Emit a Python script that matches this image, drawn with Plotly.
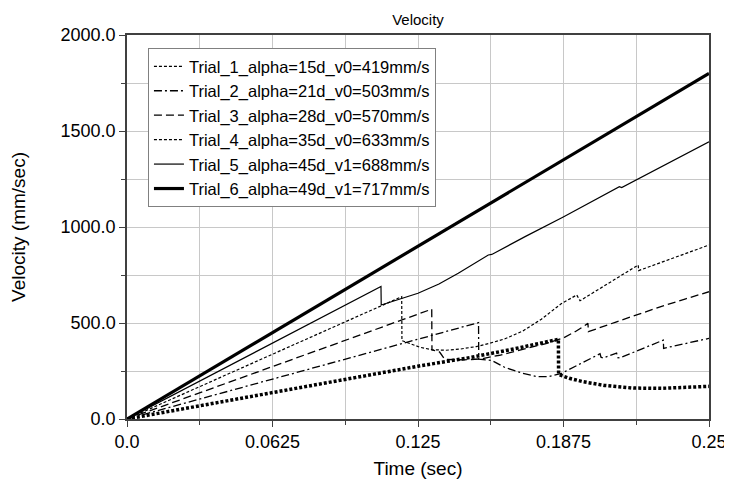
import plotly.graph_objects as go

# ---- data ----
trial_names = [
    "Trial_1_alpha=15d_v0=419mm/s",
    "Trial_2_alpha=21d_v0=503mm/s",
    "Trial_3_alpha=28d_v0=570mm/s",
    "Trial_4_alpha=35d_v0=633mm/s",
    "Trial_5_alpha=45d_v1=688mm/s",
    "Trial_6_alpha=49d_v1=717mm/s",
]

t1 = [0, 0.0958, 0.125, 0.1473, 0.165, 0.1853, 0.1854, 0.19, 0.196, 0.205, 0.2175, 0.23, 0.24, 0.25]
v1 = [0, 212, 275, 320, 362, 415, 232, 212, 194, 175, 161, 160, 165, 170]

t2 = [0, 0.151, 0.1511, 0.1567, 0.1624, 0.17, 0.176, 0.181, 0.1867, 0.195, 0.2032, 0.2036,
      0.2045, 0.2103, 0.2108, 0.2117, 0.2304, 0.2305, 0.25]
v2 = [0, 502, 312, 305, 268, 238, 221, 221, 238, 288, 340, 322, 318, 343, 320, 318, 411, 368, 420]

t3 = [0, 0.1309, 0.131, 0.134, 0.1345, 0.1365, 0.145, 0.152, 0.16, 0.17, 0.18, 0.1874, 0.193,
      0.198, 0.1982, 0.21, 0.22, 0.23, 0.24, 0.25]
v3 = [0, 572, 359, 352, 345, 310, 308, 313, 332, 362, 393, 422, 458, 498, 455, 505, 547, 588, 626, 663]

t4 = [0, 0.118, 0.1181, 0.122, 0.126, 0.131, 0.137, 0.143, 0.150, 0.156, 0.1624, 0.17, 0.178,
      0.1865, 0.1932, 0.1946, 0.2046, 0.2196, 0.2198, 0.235, 0.25]
v4 = [0, 637, 408, 390, 373, 361, 358, 364, 377, 395, 418, 458, 520, 600, 646, 616, 690, 802, 773, 840, 906]

t5 = [0, 0.1091, 0.1092, 0.118, 0.125, 0.134, 0.1423, 0.1552, 0.1567, 0.171, 0.1874, 0.2115, 0.2125, 0.25]
v5 = [0, 690, 594, 629, 655, 703, 759, 854, 857, 950, 1052, 1210, 1205, 1444]

t6 = [0, 0.25]
v6 = [0, 1800]

x_tick_vals = [0, 0.0625, 0.125, 0.1875, 0.25]
x_tick_text = ["0.0", "0.0625", "0.125", "0.1875", "0.25"]

# ---- styles ----
FONT = "Liberation Sans, Arial, sans-serif"
series = [
    (t1, v1, dict(color="black", width=3.5, dash="3px,2px")),
    (t2, v2, dict(color="black", width=1.3, dash="8px,3px,2px,3px")),
    (t3, v3, dict(color="black", width=1.3, dash="8px,4px")),
    (t4, v4, dict(color="black", width=1.2, dash="3px,2px")),
    (t5, v5, dict(color="black", width=1.2)),
    (t6, v6, dict(color="black", width=3.2)),
]

fig = go.Figure()
for i, (tx, vy, ln) in enumerate(series):
    if i == 0:
        # legend sample drawn thin (as in the reference legend)
        fig.add_trace(go.Scatter(x=[None], y=[None], mode="lines", name=trial_names[0],
                                 legendgroup="t1",
                                 line=dict(color="black", width=1.2, dash="3px,2px")))
        fig.add_trace(go.Scatter(x=tx, y=vy, mode="lines", name=trial_names[0],
                                 legendgroup="t1", showlegend=False, line=ln))
    else:
        fig.add_trace(go.Scatter(x=tx, y=vy, mode="lines", name=trial_names[i], line=ln))

fig.update_layout(
    width=724, height=471,
    margin=dict(l=119, r=23, t=27, b=60, autoexpand=False),
    paper_bgcolor="white", plot_bgcolor="white",
    font=dict(family=FONT, color="black"),
    title=dict(text="Velocity", x=0.5, xref="paper", xanchor="center",
               y=1, yref="container", yanchor="top", pad=dict(t=6),
               font=dict(size=15, family=FONT, color="black")),
    showlegend=True,
    legend=dict(x=0.036, y=0.966, xanchor="left", yanchor="top",
                bgcolor="white", bordercolor="#808080", borderwidth=1,
                font=dict(size=16.5, family=FONT, color="black"),
                tracegroupgap=0, itemwidth=30),
)

fig.update_xaxes(
    range=[0, 0.25], tickvals=x_tick_vals, ticktext=x_tick_text,
    automargin=False, ticklabeloverflow="allow",
    showgrid=True, gridcolor="#c8c8c8", gridwidth=1,
    minor=dict(dtick=0.03125, showgrid=True, gridcolor="#c8c8c8", ticks="outside",
               ticklen=4, tickcolor="#404040"),
    ticks="outside", ticklen=6, tickcolor="#404040",
    showline=True, linecolor="#404040", linewidth=1.5, mirror=True,
    zeroline=False,
    tickfont=dict(size=18, family=FONT, color="black"),
    title=dict(text="Time (sec)", font=dict(size=19, family=FONT, color="black"), standoff=16),
)
fig.update_yaxes(
    range=[0, 2000], dtick=500, tickformat=".1f",
    automargin=False, ticklabeloverflow="allow",
    showgrid=True, gridcolor="#c8c8c8", gridwidth=1,
    minor=dict(dtick=250, showgrid=True, gridcolor="#c8c8c8", ticks="outside",
               ticklen=4, tickcolor="#404040"),
    ticks="outside", ticklen=6, tickcolor="#404040",
    showline=True, linecolor="#404040", linewidth=1.5, mirror=True,
    zeroline=False,
    tickfont=dict(size=18, family=FONT, color="black"),
    title=dict(text="Velocity (mm/sec)", font=dict(size=19, family=FONT, color="black"), standoff=30),
)

fig.write_html("out.html")
